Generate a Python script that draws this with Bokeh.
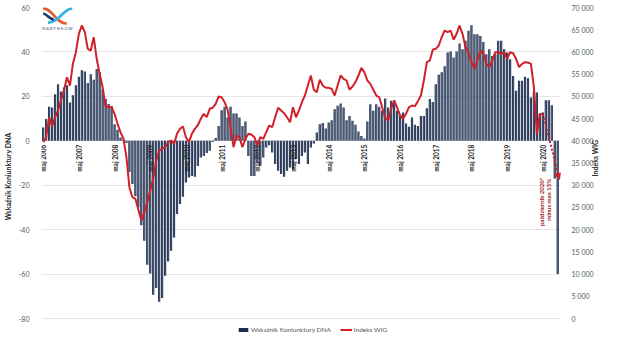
import math
from bokeh.plotting import figure
from bokeh.models import (ColumnDataSource, Range1d, LinearAxis, FixedTicker,
                          Legend, LegendItem, Arrow, NormalHead)
from bokeh.core.properties import value
from bokeh.embed import file_html
from bokeh.resources import INLINE

# ---------------- data (monthly, index 0 = May 2006) ----------------
bar_values = [
    6, 9.8, 15.3, 15, 21, 25.5, 22.2, 24, 25, 17.2,
    20.5, 25, 28.8, 31.8, 31.2, 26, 30, 27.5, 32.3, 30.8,
    23.2, 18.8, 16.6, 15.7, 7.5, 5, 1.5, 0.5, -1, -14,
    -19.5, -25, -30, -38, -45, -55.8, -59.7, -69.3, -66.3, -72.5,
    -70.8, -60.8, -54.3, -49.5, -43.5, -33, -28.5, -25.2, -18.8, -16.5,
    -15.8, -16.2, -11.3, -7.5, -6.8, -5.5, -4.5, -0.5, 1.2, 6.7,
    13.8, 15.3, 10.5, 15.3, 12.3, 12.3, 10.5, 6.7, 8.7, -6.8,
    -15.8, -15.8, -10, -11.3, -7.5, -3, -2, -5.3, -10.5, -13.5,
    -15, -16.2, -13.5, -12, -12.8, -8.2, -10.5, -6.8, -5.3, -10.5,
    -3, -1.2, 3.7, 7.5, 8, 5.5, 8.2, 9.3, 14.2, 15.8,
    16.8, 15, 9.3, 11.2, 9, 7.2, 4.2, 2.2, 1, 8.7,
    16.5, 13.5, 16.5, 15.3, 13.5, 19, 15, 18, 18.3, 13.5,
    12, 12.7, 7.8, 6.3, 10.5, 7.2, 6.7, 11.2, 11.2, 14.7,
    18.8, 17.5, 25.5, 29.7, 30.8, 33.5, 39.7, 40.2, 37.5, 40.2,
    43.8, 41.2, 45, 49.5, 52, 48, 48, 47.2, 44.5, 39,
    41.2, 38.2, 39, 45, 45, 41.2, 39.7, 36.7, 29.2, 22.5,
    27, 27, 28.8, 28.2, 19.5, 22.2, 21.7, 12.3, 12.7, 18.3,
    18.3, 16, -17, -60,
]

wig_values = [
    39700, 40800, 45300, 43200, 45300, 46800, 49070, 51300, 54300, 52400,
    57330, 59940, 64080, 65950, 64450, 60700, 60320, 63320, 58450, 55000,
    52060, 47560, 47720, 47560, 46070, 43820, 41930, 40500, 36300, 29500,
    27300, 26940, 24500, 22060, 23930, 26180, 28800, 31500, 35500, 37810,
    38200, 38560, 39680, 40060, 39310, 41560, 42700, 43220, 40810, 39680,
    41560, 42700, 43500, 44950, 46070, 45310, 47200, 47420, 48320, 49970,
    49810, 48690, 47000, 43000, 38560, 41190, 40810, 38560, 40440, 41570,
    41410, 40810, 38940, 40810, 40440, 41930, 43440, 43060, 45300, 47420,
    46820, 46210, 45300, 44180, 47560, 45300, 46820, 48690, 50190, 52440,
    54690, 51480, 50940, 53720, 52440, 51920, 51920, 51700, 50190, 52440,
    54690, 53950, 53570, 51480, 52220, 53190, 54690, 56420, 55430, 53570,
    52820, 51480, 50190, 49810, 47500, 45160, 44570, 47200, 49070, 47500,
    45690, 44950, 46070, 47560, 47940, 47800, 48920, 50190, 53570, 57690,
    58070, 60500, 60700, 61450, 63320, 64820, 64450, 64820, 62730, 64080,
    65950, 64080, 61070, 59940, 57690, 56200, 58070, 60320, 59580, 57330,
    56500, 58070, 59940, 59940, 59580, 59940, 58450, 59940, 59700, 58450,
    56570, 57330, 57690, 57600, 57330, 52000, 41500, 46000, 46070,
]

forecast_months = [168, 173.6]
forecast_wig = [46070, 31300]

label_months = list(range(0, 169, 12))
label_texts = ["maj %d" % (2006 + k) for k in range(len(label_months))]

left_ticks = [-80, -60, -40, -20, 0, 20, 40, 60]
right_ticks = list(range(0, 70001, 5000))
right_labels = {t: ("{:,}".format(t)).replace(",", " ") for t in right_ticks}

note_texts = ["październik 2020*", "minus max 15%"]

FONT = "Lato"
NAVY = "#1c2c4c"
RED = "#d2202a"

# ---------------- figure ----------------
p = figure(width=617, height=352, x_range=Range1d(-0.56, 173.94),
           y_range=Range1d(-92.15, 60), output_backend="svg",
           toolbar_location=None, x_axis_location=None,
           min_border_left=33, min_border_right=57,
           min_border_top=7, min_border_bottom=7)
p.extra_y_ranges = {"wig": Range1d(-6077, 70000)}
p.outline_line_color = None
p.xgrid.visible = False
p.ygrid.ticker = FixedTicker(ticks=left_ticks)
p.ygrid.grid_line_color = "#e6e6e6"
p.ygrid.grid_line_width = 1

left = p.yaxis[0]
left.ticker = FixedTicker(ticks=left_ticks)
left.major_label_overrides = {t: str(t) for t in left_ticks}
left.axis_line_color = None
left.major_tick_line_color = None
left.minor_tick_line_color = None
left.major_label_text_font_size = "7px"
left.major_label_text_color = "#595959"
left.major_label_text_font = FONT
left.major_label_standoff = 6
left.axis_label = "Wskaźnik Koniunktury DNA"
left.axis_label_text_font_size = "7px"
left.axis_label_text_font_style = "bold"
left.axis_label_text_font = FONT
left.axis_label_text_color = "#262626"
left.axis_label_standoff = 4

right = LinearAxis(y_range_name="wig", ticker=FixedTicker(ticks=right_ticks))
right.major_label_overrides = right_labels
right.axis_line_color = None
right.major_tick_line_color = None
right.minor_tick_line_color = None
right.major_label_text_font_size = "7px"
right.major_label_text_color = "#595959"
right.major_label_text_font = FONT
right.major_label_standoff = 5
right.axis_label = "Indeks WIG"
right.axis_label_text_font_size = "7px"
right.axis_label_text_font_style = "bold"
right.axis_label_text_font = FONT
right.axis_label_text_color = "#262626"
right.axis_label_standoff = -2
try:
    right.axis_label_orientation = math.pi / 2
except Exception:
    pass
p.add_layout(right, "right")

# ---------------- bars ----------------
src = ColumnDataSource(dict(m=list(range(len(bar_values))), v=bar_values))
bar_r = p.vbar(x="m", top="v", bottom=0, width=0.74, source=src,
               fill_color=NAVY, line_color=None)
p.vbar(x="m", top="v", bottom=0, width=0.16, source=src,
       fill_color="#c4d1e4", fill_alpha=0.6, line_color=None)

# month labels on the zero line
p.text(x=label_months, y=[0] * len(label_months), text=label_texts,
       angle=math.pi / 2, text_align="right", text_baseline="middle",
       x_offset=0.5, y_offset=4, text_font_size="6.5px", text_font_style="bold",
       text_color="#222222", text_font=value(FONT))

# ---------------- WIG line ----------------
line_r = p.line(x=list(range(len(wig_values))), y=wig_values,
                y_range_name="wig", line_color=RED, line_width=2)

fsrc = ColumnDataSource(dict(x0=[forecast_months[0]], y0=[forecast_wig[0]],
                             x1=[forecast_months[1]], y1=[forecast_wig[1]]))
p.add_layout(Arrow(source=fsrc, x_start="x0", y_start="y0", x_end="x1",
                   y_end="y1", y_range_name="wig", line_color=RED,
                   line_width=2, line_dash="2 2",
                   end=NormalHead(size=6, fill_color=RED, line_color=RED)))

# forecast note
p.text(x=[forecast_months[0] - 0.4, forecast_months[0] + 1.8],
       y=[-27.5, -26.6], text=note_texts, angle=math.pi / 2,
       text_align="center", text_baseline="middle", text_font_size="6px",
       text_font_style="bold", text_color="#9b1b1b", text_font=value(FONT))

# ---------------- logo (decorative) ----------------
p.bezier(x0=[0.0], y0=[59.6], x1=[7.9], y1=[52.8], cx0=[3.0], cy0=[59.8],
         cx1=[4.4], cy1=[52.6], line_color="#e2572b", line_width=2.6)
p.bezier(x0=[1.6], y0=[53.2], x1=[9.8], y1=[59.6], cx0=[5.3], cy0=[53.0],
         cx1=[7.0], cy1=[59.8], line_color="#35b3e2", line_width=2.6)
p.bezier(x0=[0.0], y0=[57.2], x1=[3.6], y1=[54.6], cx0=[1.2], cy0=[57.4],
         cx1=[2.0], cy1=[54.6], line_color="#1d3b6e", line_width=2.6)
p.text(x=[4.6], y=[50.4], text=["D N A   R Y N K Ó W"], text_align="center",
       text_baseline="middle", text_font_size="4px", text_color="#3e4f6c",
       text_font=value(FONT))

# ---------------- legend (inside the extended frame, under the -80 line) ----------------
legend = Legend(items=[LegendItem(label="Wskaźnik Koniunktury DNA", renderers=[bar_r]),
                       LegendItem(label="Indeks WIG", renderers=[line_r])],
                orientation="horizontal", location=(196, 12),
                label_text_font_size="6.5px", label_text_color="#595959",
                label_text_font=FONT, glyph_width=12, glyph_height=5,
                spacing=9, label_standoff=2, padding=0, margin=0,
                border_line_color=None, background_fill_alpha=0)
p.add_layout(legend)

open("out.html", "w").write(file_html(p, INLINE))
